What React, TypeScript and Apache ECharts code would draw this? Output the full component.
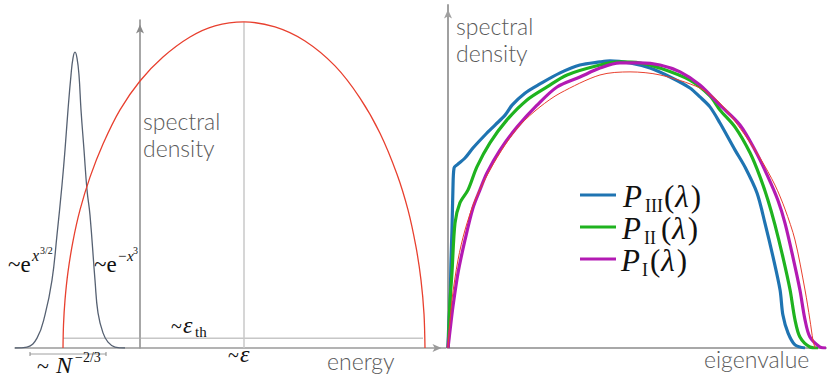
import React, { useEffect, useRef } from "react";
import * as echarts from "echarts";

type Pt = [number, number];

// ---- Left panel (energy) ----
const edgeDensity: Pt[] = [
  [-1.25, 0], [-1.13, 0.003], [-1.03, 0.03], [-0.95, 0.101], [-0.88, 0.207],
  [-0.83, 0.345], [-0.78, 0.497], [-0.75, 0.604], [-0.72, 0.726], [-0.69, 0.832],
  [-0.67, 0.884], [-0.65, 0.902], [-0.63, 0.884], [-0.61, 0.832], [-0.59, 0.726],
  [-0.56, 0.604], [-0.53, 0.482], [-0.5, 0.405], [-0.45, 0.207], [-0.42, 0.107],
  [-0.37, 0.046], [-0.32, 0.018], [-0.25, 0.003], [-0.15, 0],
];
const bulkDensity: Pt[] = [
  [-0.77, 0], [-0.765, 0.07], [-0.75, 0.146], [-0.72, 0.232], [-0.67, 0.326],
  [-0.6, 0.421], [-0.5, 0.521], [-0.37, 0.622], [-0.2, 0.726], [0, 0.814],
  [0.23, 0.887], [0.5, 0.948], [0.75, 0.982], [1.04, 0.994], [1.35, 0.979],
  [1.65, 0.936], [1.95, 0.86], [2.2, 0.762], [2.4, 0.655], [2.57, 0.53],
  [2.68, 0.421], [2.76, 0.308], [2.81, 0.207], [2.84, 0.104], [2.85, 0],
];
const epsilonLine: Pt[] = [[1.04, 0], [1.04, 0.994]];
const thresholdLine: Pt[] = [[-0.77, 0.03], [2.83, 0.03]];

// ---- Right panel (eigenvalue) ----
const pIII: Pt[] = [
  [0, 0], [0.003, 0.052], [0.011, 0.14], [0.016, 0.257], [0.021, 0.344],
  [0.026, 0.461], [0.032, 0.525], [0.048, 0.534], [0.09, 0.554], [0.132, 0.583],
  [0.196, 0.621], [0.249, 0.65], [0.302, 0.679], [0.339, 0.708], [0.407, 0.743],
  [0.487, 0.77], [0.593, 0.802], [0.698, 0.825], [0.804, 0.834], [0.857, 0.837],
  [0.963, 0.831], [1.069, 0.816], [1.175, 0.79], [1.28, 0.758], [1.333, 0.732],
  [1.386, 0.703], [1.439, 0.656], [1.519, 0.577], [1.571, 0.528], [1.635, 0.452],
  [1.677, 0.364], [1.72, 0.265], [1.757, 0.169], [1.772, 0.096], [1.799, 0.044],
  [1.836, 0.009], [1.889, 0],
];
const pII: Pt[] = [
  [0, 0], [0.003, 0.032], [0.011, 0.14], [0.021, 0.219], [0.037, 0.364],
  [0.063, 0.423], [0.106, 0.461], [0.153, 0.528], [0.222, 0.598], [0.312, 0.665],
  [0.418, 0.723], [0.524, 0.761], [0.63, 0.796], [0.804, 0.825], [0.91, 0.834],
  [1.016, 0.831], [1.122, 0.816], [1.28, 0.781], [1.386, 0.735], [1.439, 0.694],
  [1.519, 0.644], [1.598, 0.569], [1.651, 0.499], [1.693, 0.431], [1.73, 0.359],
  [1.772, 0.265], [1.81, 0.169], [1.836, 0.082], [1.862, 0.032], [1.915, 0.003],
  [1.958, 0],
];
const pI: Pt[] = [
  [0, 0], [0.011, 0.052], [0.026, 0.12], [0.053, 0.219], [0.09, 0.315],
  [0.132, 0.408], [0.169, 0.461], [0.206, 0.51], [0.275, 0.577], [0.365, 0.644],
  [0.471, 0.708], [0.577, 0.761], [0.698, 0.79], [0.804, 0.816], [0.91, 0.831],
  [1.016, 0.831], [1.122, 0.825], [1.228, 0.805], [1.333, 0.767], [1.439, 0.708],
  [1.545, 0.65], [1.624, 0.577], [1.693, 0.499], [1.746, 0.43], [1.783, 0.364],
  [1.825, 0.265], [1.862, 0.169], [1.889, 0.082], [1.915, 0.032], [1.968, 0.003],
  [2.0, 0],
];
const semicircle: Pt[] = [
  [0, 0], [0.021, 0.14], [0.053, 0.257], [0.09, 0.344], [0.143, 0.431],
  [0.222, 0.519], [0.302, 0.592], [0.381, 0.65], [0.487, 0.703], [0.593, 0.743],
  [0.804, 0.796], [0.963, 0.805], [1.122, 0.796], [1.333, 0.758], [1.439, 0.714],
  [1.545, 0.641], [1.651, 0.554], [1.73, 0.475], [1.783, 0.405], [1.836, 0.315],
  [1.889, 0.169], [1.915, 0.082], [1.931, 0.023], [1.942, 0],
];

const SERIF = "'Liberation Serif', 'DejaVu Serif', serif";
const SANS = "Lato, 'Open Sans', sans-serif";
const BLUE = "#1f74b2";
const GREEN = "#1fb31f";
const MAGENTA = "#b31ab3";
const RED = "#e8402f";

function serifText(text: string, x: number, baseline: number, size: number, italic = false) {
  return {
    type: "text",
    x,
    y: baseline - 0.3375 * size,
    silent: true,
    style: {
      text,
      fontFamily: SERIF,
      fontSize: size,
      fontStyle: italic ? "italic" : "normal",
      fill: "#111",
      align: "left",
      verticalAlign: "middle",
    },
  };
}
function sansText(text: string, x: number, baseline: number, size = 23) {
  return {
    type: "text",
    x,
    y: baseline - 0.387 * size,
    silent: true,
    style: {
      text,
      fontFamily: SANS,
      fontWeight: 300,
      fontSize: size,
      fill: "#5a5a5a",
      align: "left",
      verticalAlign: "middle",
    },
  };
}
function lambdaText(x: number, baseline: number) {
  const s = 31;
  return {
    type: "text",
    x,
    y: baseline - 0.3375 * s,
    silent: true,
    style: {
      text: "{p|(}{l|λ}{p|)}",
      fill: "#111",
      align: "left",
      verticalAlign: "middle",
      rich: {
        p: { fontFamily: SERIF, fontSize: s, lineHeight: 26, fill: "#111" },
        l: { fontFamily: SERIF, fontSize: s, lineHeight: 26, fontStyle: "italic", fill: "#111", padding: [0, 2, 0, 1] },
      },
    },
  };
}
function legendLine(y: number, color: string) {
  return {
    type: "line",
    silent: true,
    shape: { x1: 580, y1: y, x2: 616, y2: y },
    style: { stroke: color, lineWidth: 3 },
  };
}

function baseLine(data: Pt[], color: string, width: number, gi: number, smooth: number | boolean, z = 2) {
  return {
    type: "line",
    xAxisIndex: gi,
    yAxisIndex: gi,
    data,
    symbol: "none",
    showSymbol: false,
    smooth,
    silent: true,
    z,
    lineStyle: { color, width },
  };
}

export default function App() {
  const ref = useRef<HTMLDivElement>(null);
  useEffect(() => {
    const chart = echarts.init(ref.current!, null, { renderer: "svg" });
    const axisCommon = {
      type: "value",
      axisTick: { show: false },
      axisLabel: { show: false },
      splitLine: { show: false },
    };
    chart.setOption({
      animation: false,
      grid: [
        { left: 15, top: 20, width: 431, height: 328 },
        { left: 448, top: 5, width: 378, height: 343 },
      ],
      xAxis: [
        {
          ...axisCommon,
          gridIndex: 0,
          min: -1.25,
          max: 3.06,
          axisLine: {
            show: true,
            onZero: true,
            symbol: ["none", "arrow"],
            symbolSize: [6, 9],
            symbolOffset: [0, -4.5],
            lineStyle: { color: "#9a9a9a", width: 1.5 },
          },
        },
        {
          ...axisCommon,
          gridIndex: 1,
          min: 0,
          max: 2,
          axisLine: { show: true, onZero: true, lineStyle: { color: "#a8a8a8", width: 2 } },
        },
      ],
      yAxis: [
        {
          ...axisCommon,
          gridIndex: 0,
          min: 0,
          max: 1,
          axisLine: {
            show: true,
            onZero: true,
            symbol: ["none", "arrow"],
            symbolSize: [6, 9],
            symbolOffset: [0, -4.5],
            lineStyle: { color: "#8a8a8a", width: 1.5 },
          },
        },
        {
          ...axisCommon,
          gridIndex: 1,
          min: 0,
          max: 1,
          axisLine: {
            show: true,
            onZero: true,
            symbol: ["none", "arrow"],
            symbolSize: [6, 9],
            symbolOffset: [0, -4.5],
            lineStyle: { color: "#a0a0a0", width: 2 },
          },
        },
      ],
      series: [
        baseLine(thresholdLine, "#aaaaaa", 1, 0, false, 1),
        baseLine(epsilonLine, "#c8c8c8", 1.5, 0, false, 1),
        baseLine(edgeDensity, "#566172", 1.3, 0, 0.45),
        baseLine(bulkDensity, RED, 1.3, 0, 0.3),
        baseLine(pIII, BLUE, 3.2, 1, 0.3, 3),
        baseLine(pII, GREEN, 3.2, 1, 0.3, 4),
        baseLine(pI, MAGENTA, 3.2, 1, 0.3, 5),
        baseLine(semicircle, RED, 1, 1, 0.3, 6),
      ],
      graphic: [
        // width bracket under the axis
        { type: "line", silent: true, shape: { x1: 30, y1: 354, x2: 106, y2: 354 }, style: { stroke: "#a0a0a0", lineWidth: 1 } },
        { type: "line", silent: true, shape: { x1: 30, y1: 352, x2: 30, y2: 356 }, style: { stroke: "#888", lineWidth: 1 } },
        { type: "line", silent: true, shape: { x1: 106, y1: 352, x2: 106, y2: 356 }, style: { stroke: "#888", lineWidth: 1 } },
        // left panel labels
        sansText("spectral", 143, 130),
        sansText("density", 143, 157),
        sansText("energy", 327, 370),
        serifText("~e", 8, 272, 23),
        serifText("x", 32, 261, 16, true),
        serifText("3/2", 40, 254, 10),
        serifText("~e", 94, 272, 23),
        serifText("−x", 117, 261, 15, true),
        serifText("3", 133, 254, 10),
        serifText("~", 37, 373, 22),
        serifText("N", 56, 373, 24, true),
        serifText("−2/3", 75, 362, 14),
        serifText("~", 171, 333, 20),
        serifText("ε", 183, 333, 24, true),
        serifText("th", 195, 337, 15),
        serifText("~", 228, 362, 20),
        serifText("ε", 240, 362, 24, true),
        // right panel labels
        sansText("spectral", 456, 35),
        sansText("density", 456, 62),
        sansText("eigenvalue", 704, 368),
        // legend
        legendLine(195, BLUE),
        legendLine(227, GREEN),
        legendLine(259, MAGENTA),
        serifText("P", 623, 207, 31, true),
        serifText("III", 645, 212, 18),
        lambdaText(664, 207),
        serifText("P", 622, 239, 31, true),
        serifText("II", 644, 244, 18),
        lambdaText(661, 239),
        serifText("P", 621, 271, 31, true),
        serifText("I", 642, 276, 18),
        lambdaText(650, 271),
      ],
    });
    return () => chart.dispose();
  }, []);
  return (
    <div
      ref={ref}
      style={{ position: "fixed", left: 0, top: 0, width: 830, height: 377, background: "#fff" }}
    />
  );
}
